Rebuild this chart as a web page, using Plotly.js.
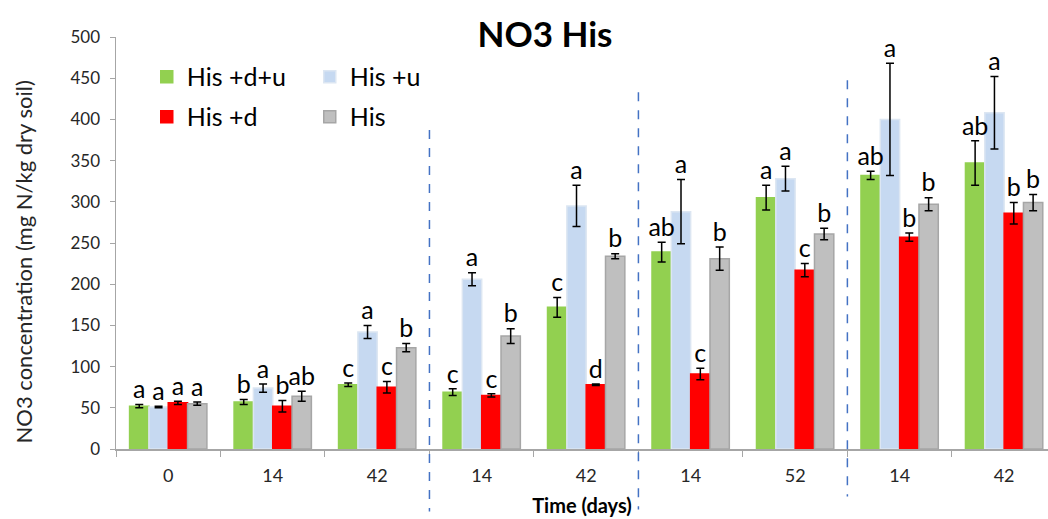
<!DOCTYPE html>
<html>
<head>
<meta charset="utf-8">
<script src="https://cdn.plot.ly/plotly-3.0.1.min.js"></script>
<style>html,body{margin:0;padding:0;background:#fff;}#chart{width:1048px;height:519px;}</style>
</head>
<body>
<div id="chart"></div>
<script>
// Tick labels (time in days) for each group
const days = ['0', '14', '42', '14', '42', '14', '52', '14', '42'];
// Series names
const seriesNames = ['His +d+u', 'His +u', 'His +d', 'His'];
// Values (mg N/kg dry soil)
const hisDU = [52, 57, 78, 69, 172, 239, 305, 332, 347];
const hisU  = [51, 74, 142, 206, 295, 288, 328, 400, 408];
const hisD  = [56, 52, 75, 65, 78, 91, 217, 257, 286];
const his   = [55, 64, 123, 137, 234, 231, 261, 297, 299];
// Error bars
const hisDUErr = [2, 3, 2, 4, 12, 12, 15, 5, 27];
const hisUErr  = [1, 5, 8, 8, 25, 39, 15, 68, 44];
const hisDErr  = [2, 7, 7, 2, 1, 7, 8, 5, 13];
const hisErr   = [2, 6, 5, 9, 3, 14, 7, 8, 10];
// Significance letters
const hisDULet = ['a', 'b', 'c', 'c', 'c', 'ab', 'a', 'ab', 'ab'];
const hisULet  = ['a', 'a', 'a', 'a', 'a', 'a', 'a', 'a', 'a'];
const hisDLet  = ['a', 'b', 'c', 'c', 'd', 'c', 'c', 'b', 'b'];
const hisLet   = ['a', 'ab', 'b', 'b', 'b', 'b', 'b', 'b', 'b'];
const yTitle = 'NO3 concentration (mg N/kg dry soil)';

const cats = days.map((d, i) => 'g' + i + '_' + d);
const FONT = 'Lato, "Open Sans", sans-serif';

const series = [
  {name: seriesNames[0], y: hisDU, e: hisDUErr, t: hisDULet, color: '#92D050', line: '#92D050', legend: 'legend'},
  {name: seriesNames[1], y: hisU, e: hisUErr, t: hisULet, color: '#C6D9F1', line: '#DCE6F2', legend: 'legend'},
  {name: seriesNames[2], y: hisD, e: hisDErr, t: hisDLet, color: '#FF0000', line: '#FF0000', legend: 'legend2'},
  {name: seriesNames[3], y: his, e: hisErr, t: hisLet, color: '#BFBFBF', line: '#A6A6A6', legend: 'legend2'}
];

const traces = [];
series.forEach((s, k) => {
  traces.push({
    type: 'bar', name: s.name, x: cats, y: s.y, offsetgroup: 'o' + k,
    marker: {color: s.color, line: {color: s.line, width: 1.5}},
    error_y: {type: 'data', array: s.e, visible: true, color: '#000', thickness: 1.5, width: 4},
    legend: s.legend, hoverinfo: 'y'
  });
});
series.forEach((s, k) => {
  traces.push({
    type: 'scatter', mode: 'text', x: cats, y: s.y.map((v, i) => v + s.e[i]),
    text: s.t, textposition: 'top center', offsetgroup: 'o' + k, showlegend: false,
    textfont: {family: FONT, size: 25, color: '#000'}, hoverinfo: 'skip', cliponaxis: false
  });
});

const sepLines = [[2.5, 0.774, -0.152], [4.5, 0.866, -0.147], [6.5, 0.895, -0.115]];
const shapes = sepLines.map(l => ({
  type: 'line', xref: 'x', yref: 'paper', x0: l[0], x1: l[0], y0: l[1], y1: l[2],
  line: {color: '#4472C4', width: 1.5, dash: 'dash'}
}));

const layout = {
  width: 1048, height: 519,
  margin: {l: 116, r: 0, t: 37, b: 70},
  paper_bgcolor: '#fff', plot_bgcolor: '#fff',
  barmode: 'group', bargap: 0.26, bargroupgap: 0,
  scattermode: 'group', scattergap: 0.26,
  font: {family: FONT, color: '#262626'},
  title: {text: '<b>NO3 His</b>', x: 0.52, xanchor: 'center', y: 0.933, yanchor: 'middle',
          xref: 'container', yref: 'container', font: {family: FONT, size: 35, color: '#000'}},
  xaxis: {
    type: 'category', range: [-0.5, 8.42], tickmode: 'array', tickvals: cats, ticktext: days,
    tickson: 'boundaries', ticks: 'outside', ticklen: 6, tickcolor: '#A6A6A6',
    ticklabelstandoff: 10,
    showline: true, linecolor: '#A6A6A6', linewidth: 1.5, showgrid: false, zeroline: false,
    tickfont: {size: 18, family: FONT, color: '#262626'},
    title: {text: '<b>Time (days)</b>', font: {size: 20, family: FONT, color: '#000'}, standoff: 14}
  },
  yaxis: {
    range: [0, 500], dtick: 50, ticks: 'outside', ticklen: 5, tickcolor: '#A6A6A6',
    ticklabelstandoff: 6,
    showline: true, linecolor: '#A6A6A6', linewidth: 1.5, showgrid: false, zeroline: false,
    tickfont: {size: 17, family: FONT, color: '#262626'}
  },
  annotations: [{
    text: yTitle, xref: 'paper', yref: 'paper', x: -0.0988, y: 0.455, textangle: -90,
    showarrow: false, xanchor: 'center', yanchor: 'middle',
    font: {size: 22, family: FONT, color: '#262626'}
  }],
  legend: {orientation: 'h', xref: 'paper', yref: 'paper', x: 0.033, y: 0.903, yanchor: 'middle',
           entrywidth: 118, font: {size: 25, family: FONT, color: '#000'}, bgcolor: 'rgba(0,0,0,0)'},
  legend2: {orientation: 'h', xref: 'paper', yref: 'paper', x: 0.033, y: 0.806, yanchor: 'middle',
           entrywidth: 118, font: {size: 25, family: FONT, color: '#000'}, bgcolor: 'rgba(0,0,0,0)'},
  shapes: shapes,
  showlegend: true
};

Plotly.newPlot('chart', traces, layout, {displayModeBar: false, staticPlot: true});
</script>
</body>
</html>
